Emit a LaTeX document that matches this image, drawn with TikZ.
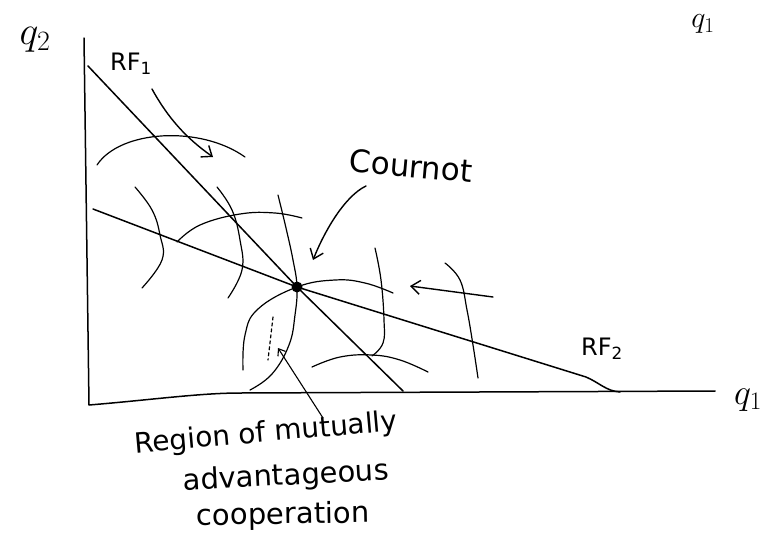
\RequirePackage{fix-cm}
\documentclass[tikz,border=0pt]{standalone}
\usepackage{fontspec}
\newfontfamily\handfont{DejaVu Sans}
\usetikzlibrary{arrows.meta}
\begin{document}
\begin{tikzpicture}[x=1pt,y=-1pt,line cap=round,line join=round,
  ink/.style={line width=1.5pt},
  fine/.style={line width=1.2pt},
  arr/.style={line width=1.4pt,-{Straight Barb[length=9pt,width=14pt,line width=1.4pt]}},
  lbl/.style={inner sep=0pt,font=\handfont\fontsize{#1}{#1}\selectfont},
  lbl/.default=30]
\useasboundingbox (0,0) rectangle (770,533);

% named points
\node[circle,fill,inner sep=0pt,minimum size=11pt] (C) at (297,287) {};
\coordinate (ytop) at (84,38);
\coordinate (O) at (89,405);
\coordinate (xend) at (715,391);
\coordinate (rf1a) at (88,66);
\coordinate (rf1b) at (403,391);
\coordinate (rf2a) at (93,209);
\coordinate (rf2k) at (586,377);
\coordinate (rf2b) at (620,392);

% axes
\draw[ink] (ytop) -- (O) .. controls (150,400) and (200,393) .. (240,393) -- (xend);

% reaction functions
\draw[ink] (rf1a) -- (C.center) -- (rf1b);
\draw[ink] (rf2a) -- (C.center) -- (rf2k) .. controls (600,383) and (606,391) .. (rf2b);

% iso-profit curves
\draw[fine] (97,165) .. controls (120,130) and (200,125) .. (245,157);
\draw[fine] plot[smooth,tension=0.7] coordinates {(135,187) (152,210) (160,235) (162,260) (142,288)};
\draw[fine] plot[smooth,tension=0.7] coordinates {(217,187) (232,210) (240,240) (242,270) (228,298)};
\draw[fine] plot[smooth,tension=0.7] coordinates {(177,242) (200,225) (240,214) (275,213) (302,218)};
\draw[fine] plot[smooth,tension=0.7] coordinates {(278,195) (286,228) (293,260) (297,287) (295,315) (289,345) (272,374) (250,390)};
\draw[fine] plot[smooth,tension=0.7] coordinates {(243,370) (245,335) (258,309) (297,287) (335,280) (365,283) (393,293)};
\draw[fine] plot[smooth,tension=0.7] coordinates {(375,248) (381,280) (384,320) (383,343) (372,356)};
\draw[fine] plot[smooth,tension=0.7] coordinates {(312,367) (340,357) (372,355) (400,360) (428,372)};
\draw[fine] plot[smooth,tension=0.7] coordinates {(445,263) (460,280) (467,310) (473,345) (478,378)};
\draw[fine,dashed] (273,317) -- (268,360);

% labels
\node[inner sep=0pt,font=\fontsize{40}{40}\selectfont] (q2) at (35,40) {$q_2$};
\node[inner sep=0pt,font=\fontsize{30}{30}\selectfont] (q1t) at (703,24) {$q_1$};
\node[inner sep=0pt,font=\fontsize{36}{36}\selectfont] (q1b) at (748,400) {$q_1$};
\node[lbl=24] (rf1l) at (131,64) {RF\textsubscript{1}};
\node[lbl=24] (rf2l) at (602,349) {RF\textsubscript{2}};
\node[lbl=31,rotate=-5] (cour) at (411,166) {Cournot};
\node[lbl=28,rotate=5] (reg1) at (266,434) {Region of mutually};
\node[lbl=29,rotate=3] (reg2) at (286,477) {advantageous};
\node[lbl=29,rotate=1] (reg3) at (283,516) {cooperation};

% arrows
\coordinate (a1t) at (152,89);
\coordinate (a1h) at (213,157);
\draw[arr] (a1t) .. controls (168,118) and (186,138) .. (a1h);
\coordinate (a2t) at (366,186);
\coordinate (a2h) at (313,260);
\draw[arr] (a2t) .. controls (345,196) and (325,230) .. (a2h);
\coordinate (a3t) at (493,297);
\coordinate (a3h) at (410,286);
\draw[arr] (a3t) -- (a3h);
\coordinate (a4t) at (323,418);
\coordinate (a4h) at (278,348);
\draw[line width=1.1pt,-{Straight Barb[length=6pt,width=9pt,line width=1.1pt]}] (a4t) -- (a4h);
\end{tikzpicture}
\end{document}
